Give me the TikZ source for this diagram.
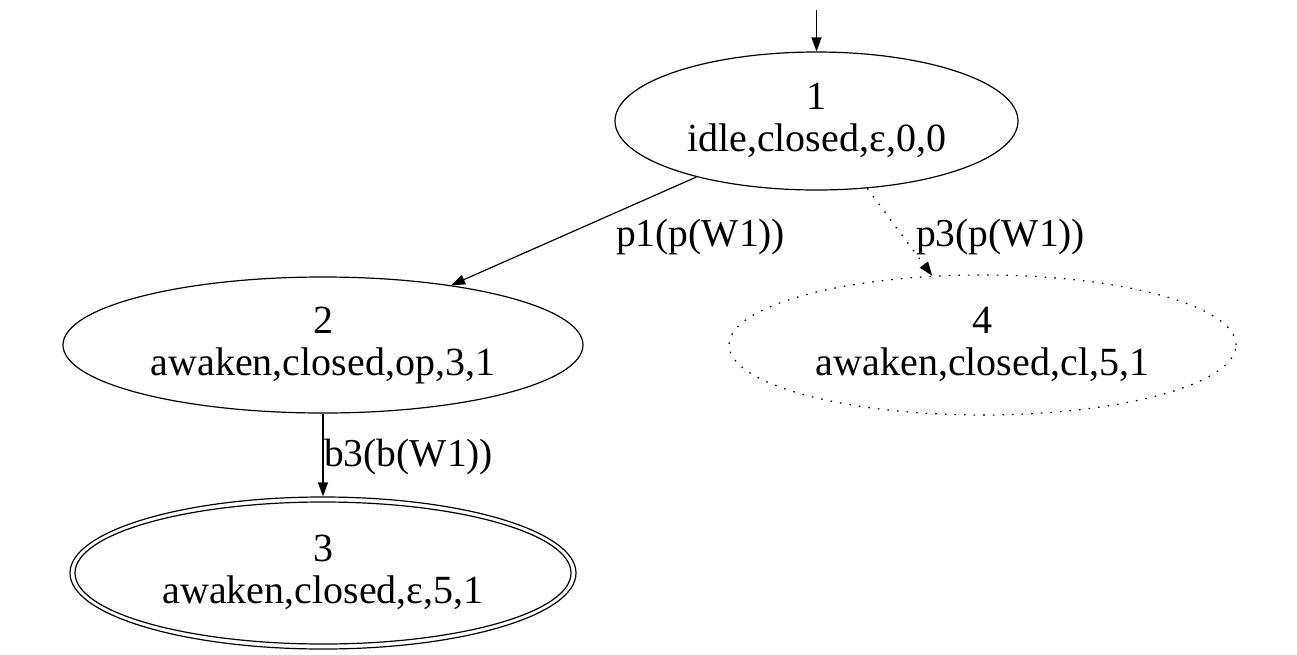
\documentclass[tikz,border=0pt]{standalone}
\usepackage{fontspec}
\setmainfont{Liberation Serif}
\usetikzlibrary{shapes.geometric,arrows.meta}
\begin{document}
\begin{tikzpicture}[x=1pt,y=-1pt,
  st/.style={ellipse,draw,line width=1.2pt,inner sep=0pt},
  txt/.style={anchor=base,inner sep=0pt,font=\fontsize{40}{42}\selectfont},
  lbl/.style={anchor=base west,inner sep=0pt,font=\fontsize{39.5}{42}\selectfont},
  edge/.style={line width=1.2pt,-{Triangle[length=14pt,width=10pt]}},
  dotedge/.style={edge,dash pattern=on 1.6pt off 8pt}]
\useasboundingbox (0,0) rectangle (1297,654);
% states
\node[st,minimum width=403pt,minimum height=138pt] (n1) at (816.5,121) {};
\node[txt] (t1a) at (816.5,109) {1};
\node[txt] (t1b) at (816.5,151) {idle,closed,ε,0,0};

\node[st,minimum width=520pt,minimum height=136pt] (n2) at (323,345) {};
\node[txt] (t2a) at (323,333) {2};
\node[txt] (t2b) at (323,375) {awaken,closed,op,3,1};

\node[st,minimum width=506pt,minimum height=152pt] (n3) at (323,573) {};
\node[st,minimum width=496pt,minimum height=142pt] (n3i) at (323,573) {};
\node[txt] (t3a) at (323,561) {3};
\node[txt] (t3b) at (323,603) {awaken,closed,ε,5,1};

\node[st,dash pattern=on 1.6pt off 8pt,minimum width=507pt,minimum height=140pt] (n4) at (982.5,345) {};
\node[txt] (t4a) at (982.5,333) {4};
\node[txt] (t4b) at (982.5,375) {awaken,closed,cl,5,1};

% start
\coordinate (s) at (816.5,10);
\draw[edge] (s) -- (n1.north);
% edges
\draw[edge] (n1.-155) -- (n2.25);
\node[lbl] (l12) at (616,246) {p1(p(W1))};
\draw[dotedge] (n1.-53) -- (n4.126);
\node[lbl] (l14) at (916,246) {p3(p(W1))};
\draw[edge] (n2.south) -- (n3.north);
\node[lbl] (l23) at (324,466) {b3(b(W1))};
\end{tikzpicture}
\end{document}
